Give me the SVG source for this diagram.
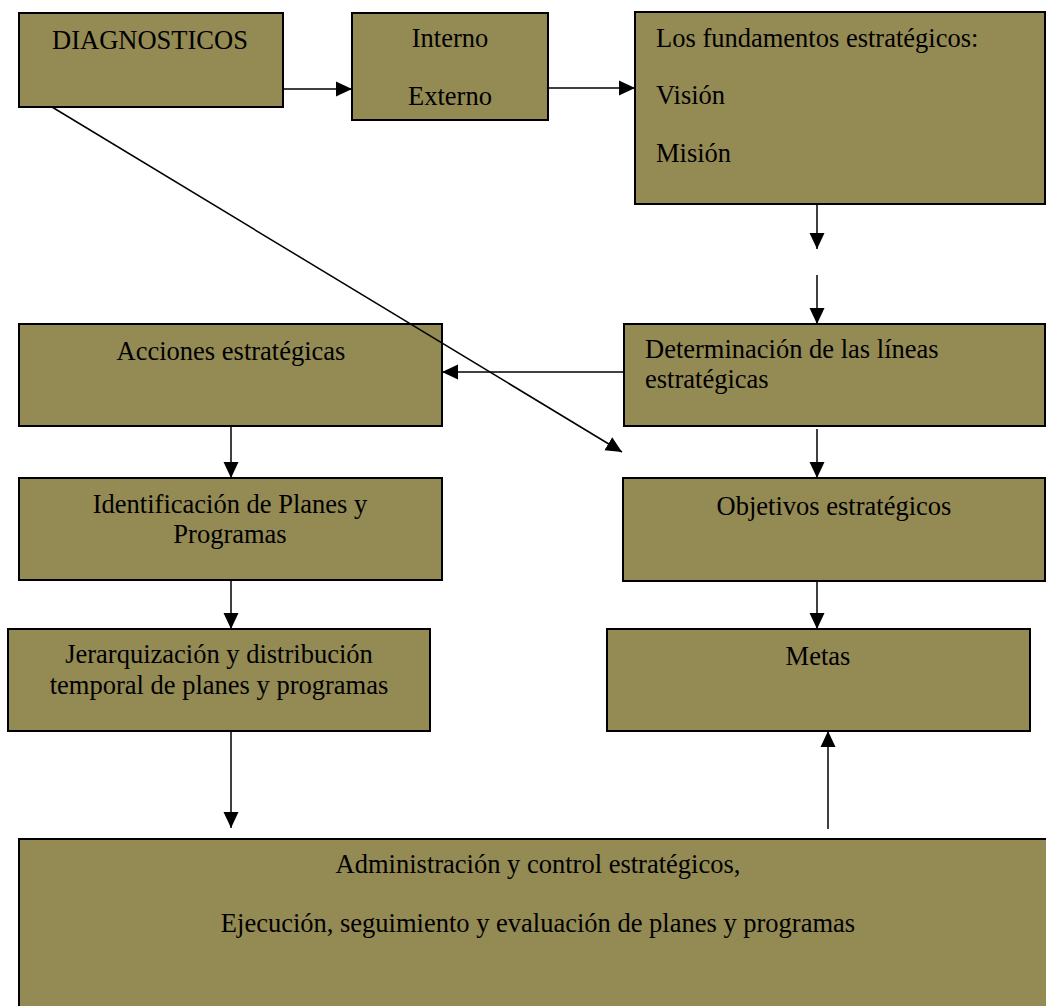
<svg xmlns="http://www.w3.org/2000/svg" width="1046" height="1006" viewBox="0 0 1046 1006">
  <style>
    .box { fill: #948A54; stroke: #000; stroke-width: 2; }
    .t { font-family: "Liberation Serif", "Times New Roman", serif; font-size: 26.5px; fill: #000; }
    .c { text-anchor: middle; }
    .edge { stroke: #000; stroke-width: 1.5; fill: none; marker-end: url(#arrow); }
  </style>
  <defs>
    <marker id="arrow" viewBox="0 0 16 16" markerWidth="16" markerHeight="16" refX="16" refY="8" orient="auto" markerUnits="userSpaceOnUse">
      <path d="M0,0.5 L16,8 L0,15.5 z" fill="#000"/>
    </marker>
  </defs>
  <rect width="1046" height="1006" fill="#fff"/>

  <g id="diagnosticos">
    <rect class="box" x="19" y="13" width="264" height="94"/>
    <text class="t c" x="150" y="49">DIAGNOSTICOS</text>
  </g>
  <g id="interno-externo">
    <rect class="box" x="352" y="13" width="196" height="107"/>
    <text class="t c" x="450" y="47">Interno</text>
    <text class="t c" x="450" y="105">Externo</text>
  </g>
  <g id="fundamentos">
    <rect class="box" x="635" y="12" width="410" height="192"/>
    <text class="t" x="656" y="47">Los fundamentos estratégicos:</text>
    <text class="t" x="656" y="104">Visión</text>
    <text class="t" x="656" y="162">Misión</text>
  </g>
  <g id="acciones">
    <rect class="box" x="19" y="324" width="423" height="102"/>
    <text class="t c" x="231" y="360">Acciones estratégicas</text>
  </g>
  <g id="lineas">
    <rect class="box" x="624" y="324" width="421" height="102"/>
    <text class="t" x="645" y="358">Determinación de las líneas</text>
    <text class="t" x="645" y="388">estratégicas</text>
  </g>
  <g id="identificacion">
    <rect class="box" x="19" y="478" width="423" height="102"/>
    <text class="t c" x="230" y="513">Identificación de Planes y</text>
    <text class="t c" x="230" y="543">Programas</text>
  </g>
  <g id="objetivos">
    <rect class="box" x="623" y="478" width="422" height="103"/>
    <text class="t c" x="834" y="515">Objetivos estratégicos</text>
  </g>
  <g id="jerarquizacion">
    <rect class="box" x="8" y="629" width="422" height="102"/>
    <text class="t c" x="219" y="663">Jerarquización y distribución</text>
    <text class="t c" x="219" y="694">temporal de planes y programas</text>
  </g>
  <g id="metas">
    <rect class="box" x="607" y="629" width="423" height="102"/>
    <text class="t c" x="818" y="665">Metas</text>
  </g>
  <g id="administracion">
    <rect class="box" x="19" y="839" width="1040" height="190"/>
    <text class="t c" x="538" y="873">Administración y control estratégicos,</text>
    <text class="t c" x="538" y="932">Ejecución, seguimiento y evaluación de planes y programas</text>
  </g>

  <g id="connectors">
    <line class="edge" x1="283" y1="89" x2="352" y2="89"/>
    <line class="edge" x1="548" y1="88" x2="635" y2="88"/>
    <line class="edge" x1="817" y1="204" x2="817" y2="249"/>
    <line class="edge" x1="817" y1="275" x2="817" y2="324"/>
    <line class="edge" x1="624" y1="372" x2="442" y2="372"/>
    <line class="edge" x1="52" y1="107" x2="622" y2="452"/>
    <line class="edge" x1="231" y1="426" x2="231" y2="478"/>
    <line class="edge" x1="231" y1="580" x2="231" y2="629"/>
    <line class="edge" x1="817" y1="429" x2="817" y2="478"/>
    <line class="edge" x1="817" y1="581" x2="817" y2="629"/>
    <line class="edge" x1="231" y1="731" x2="231" y2="828"/>
    <line class="edge" x1="828" y1="829" x2="828" y2="731"/>
  </g>
</svg>
